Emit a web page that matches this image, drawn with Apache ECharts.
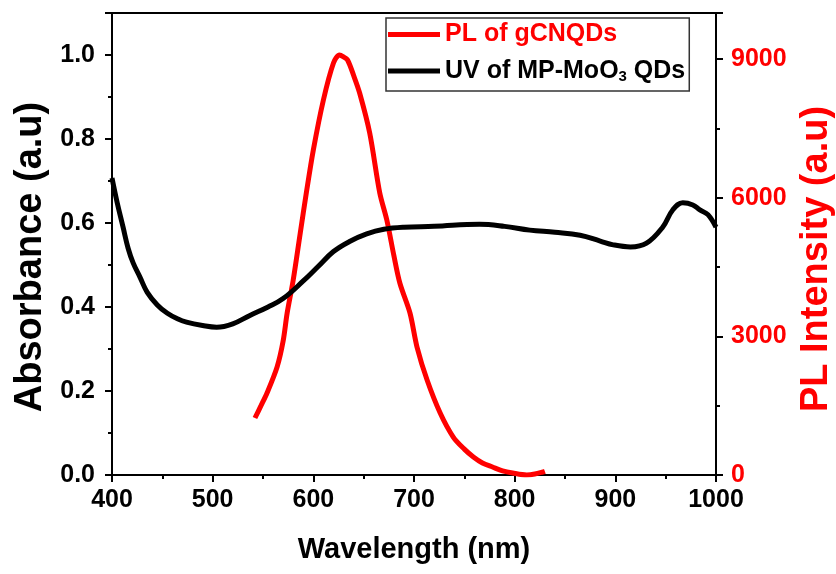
<!DOCTYPE html>
<html><head><meta charset="utf-8">
<script src="https://cdn.jsdelivr.net/npm/echarts@6/dist/echarts.min.js"></script>
<style>html,body{margin:0;padding:0;background:#fff}#c{width:836px;height:574px}</style>
</head><body><div id="c"></div>
<script>
const uvWl  = [400,405,411,416,421,428,435,445,455,465,474,490,504,520,537,555,570,590,605,620,636,653,670,690,720,765,790,815,840,865,885,898,915,931,947,957,967,977,984,992,1000];
const uvAbs = [0.707,0.65,0.59,0.54,0.505,0.47,0.435,0.405,0.385,0.372,0.364,0.356,0.352,0.36,0.38,0.40,0.42,0.462,0.497,0.532,0.556,0.574,0.585,0.590,0.592,0.597,0.592,0.583,0.578,0.571,0.557,0.548,0.543,0.552,0.59,0.631,0.648,0.643,0.631,0.62,0.59];
const plWl  = [542,548,554,564,570,574,580,587,593,600,610,620,626,630,634,640,646,656,666,673,680,686,696,703,713,726,739,750,759,768,778,788,798,812,820,828,830];
const plInt = [1234,1500,1775,2338,2900,3506,4220,5238,6100,7035,8117,8918,9091,9050,8983,8650,8268,7403,6104,5519,4750,4150,3506,2770,2056,1342,822,560,390,260,173,90,43,0,20,65,80];
const xTicks = [400,500,600,700,800,900,1000];
const plName = 'PL of gCNQDs';
const uvName = 'UV of MP-MoO3 QDs';

const F = 'Liberation Sans, Arial, sans-serif';
const chart = echarts.init(document.getElementById('c'), null, {renderer:'canvas'});
const axisCommon = {
  axisLine:{show:true, lineStyle:{color:'#000', width:2}},
  axisTick:{show:true, inside:false, length:7, lineStyle:{color:'#000', width:2}},
  minorTick:{show:true, splitNumber:2, length:4, lineStyle:{color:'#000', width:2}},
  splitLine:{show:false}
};
chart.setOption({
  animation:false,
  backgroundColor:'#fff',
  grid:{left:112, right:120, top:13, bottom:99, show:true, borderColor:'#000', borderWidth:2,
        containLabel:false, outerBoundsMode:'none'},
  legend:{
    left:386, top:18, orient:'vertical', itemGap:8, padding:[4,4,7,2],
    borderColor:'#333', borderWidth:1.5, backgroundColor:'#fff',
    icon:'rect', itemWidth:52, itemHeight:5,
    data:[{name:plName, textStyle:{color:'#ff0000'}},{name:uvName}],
    formatter: n => n===uvName ? '{a|UV of MP-MoO}{s|3}{a| QDs}' : '{r|'+n+'}',
    textStyle:{fontFamily:F, fontWeight:'bold', fontSize:25, color:'#000',
      rich:{a:{fontFamily:F, fontWeight:'bold', fontSize:25, lineHeight:26, color:'#000'},
            r:{fontFamily:F, fontWeight:'bold', fontSize:25, lineHeight:26, color:'#ff0000'},
            s:{fontFamily:F, fontWeight:'bold', fontSize:15, lineHeight:26, color:'#000', verticalAlign:'bottom', padding:[14,0,0,0]}}}
  },
  xAxis:Object.assign({}, axisCommon, {
    type:'value', min:400, max:1000, interval:100,
    name:'Wavelength (nm)', nameLocation:'middle', nameGap:60,
    nameTextStyle:{fontFamily:F, fontWeight:'bold', fontSize:29, color:'#000'},
    axisLabel:{fontFamily:F, fontWeight:'bold', fontSize:25, color:'#000', margin:13,
      formatter:v => xTicks.includes(v) ? String(v) : ''}
  }),
  yAxis:[
    Object.assign({}, axisCommon, {
      type:'value', min:0, max:1.1, interval:0.2, position:'left',
      name:'Absorbance (a.u)', nameLocation:'middle', nameGap:60,
      nameTextStyle:{fontFamily:F, fontWeight:'bold', fontSize:38, color:'#000', padding:[0,26,0,0]},
      axisLabel:{fontFamily:F, fontWeight:'bold', fontSize:25, color:'#000', margin:17,
        showMaxLabel:false, formatter:v => v.toFixed(1)}
    }),
    Object.assign({}, axisCommon, {
      type:'value', min:0, max:10000, interval:3000, position:'right',
      name:'PL Intensity (a.u)', nameLocation:'middle', nameGap:74, nameRotate:90,
      nameTextStyle:{fontFamily:F, fontWeight:'bold', fontSize:38, color:'#ff0000', padding:[0,30,0,0]},
      axisLabel:{fontFamily:F, fontWeight:'bold', fontSize:25, color:'#ff0000', margin:15,
        showMaxLabel:false, formatter:v => String(v)}
    })
  ],
  series:[
    {name:plName, type:'line', yAxisIndex:1, showSymbol:false, smooth:0.3,
     color:'#ff0000', lineStyle:{color:'#ff0000', width:5},
     data: plWl.map((w,i)=>[w, plInt[i]])},
    {name:uvName, type:'line', yAxisIndex:0, showSymbol:false, smooth:0.4,
     color:'#000', lineStyle:{color:'#000', width:5},
     data: uvWl.map((w,i)=>[w, uvAbs[i]])}
  ]
});
</script></body></html>
